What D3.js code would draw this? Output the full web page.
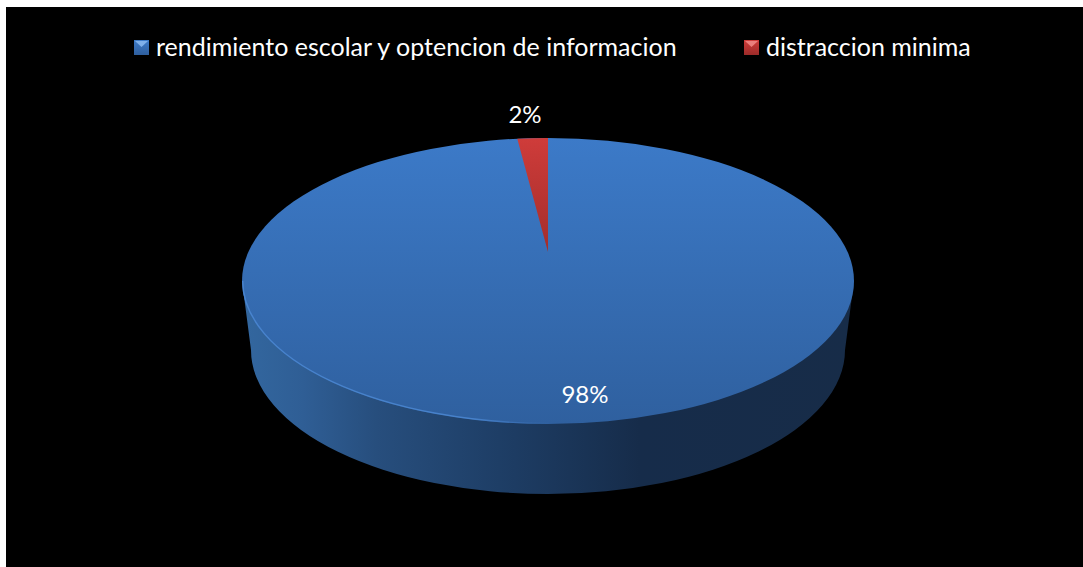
<!DOCTYPE html>
<html lang="en">
<head>
<meta charset="UTF-8">
<title>Pie chart</title>
<style>
    html, body { margin: 0; padding: 0; background: #fff; overflow: hidden; }
    text { font-family: Lato, "Open Sans", "Noto Sans", sans-serif; fill: #fff; }
</style>
</head>
<body>
<script src="https://d3js.org/d3.v7.min.js"></script>
<script>
const categories = ['rendimiento escolar y optencion de informacion', 'distraccion minima'];
const values = [98.4, 1.6];
const valueLabels = ['98%', '2%'];

const width = 1083, height = 567;
const cx = 548, cy = 281, rx = 306, ry = 143;
const wallX = 297, wallY = 350, wallRy = 144;
const apexY = 252; // the 3d view puts the pie's centre above the middle of the ellipse

const svg = d3.select('body').append('svg')
    .attr('width', width)
    .attr('height', height)
    .style('display', 'block');

const defs = svg.append('defs');

function linGrad(id, dir, stops) {
    const g = defs.append('linearGradient').attr('id', id)
        .attr('x1', 0).attr('y1', 0)
        .attr('x2', dir === 'h' ? 1 : 0).attr('y2', dir === 'h' ? 0 : 1);
    stops.forEach(s => g.append('stop').attr('offset', s[0]).attr('stop-color', s[1]));
}
linGrad('topBlue', 'v', [[0, '#3c7ac8'], [1, '#2f609f']]);
linGrad('topRed', 'v', [[0, '#cf3c3a'], [1, '#a32d2b']]);
linGrad('wallBlue', 'h', [[0, '#33679f'], [0.1, '#2f5e95'], [0.22, '#274e7d'], [0.42, '#1e3e66'], [0.65, '#162c4a'], [1, '#172c48']]);
linGrad('legBlue', 'v', [[0, '#3d7bc9'], [1, '#2f5f9e']]);
linGrad('legRed', 'v', [[0, '#cf3c3a'], [1, '#9c2b29']]);

// rim highlight fades out towards the front of the pie
const rimGrad = defs.append('linearGradient').attr('id', 'rimFade')
    .attr('gradientUnits', 'userSpaceOnUse')
    .attr('x1', cx - rx).attr('y1', 0).attr('x2', cx).attr('y2', 0);
rimGrad.append('stop').attr('offset', 0).attr('stop-color', '#4d8ad6').attr('stop-opacity', 0.8);
rimGrad.append('stop').attr('offset', 0.75).attr('stop-color', '#4d8ad6').attr('stop-opacity', 0.8);
rimGrad.append('stop').attr('offset', 1).attr('stop-color', '#4d8ad6').attr('stop-opacity', 0);

// background panel
svg.append('rect').attr('x', 6).attr('y', 7).attr('width', width - 6).attr('height', height - 7).attr('fill', '#000');

// side wall: lower half of the bottom ellipse joined to the rim of the top
svg.append('path')
    .attr('d', `M${cx - rx},${cy}L${cx - wallX},${wallY}A${wallX},${wallRy} 0 0 0 ${cx + wallX},${wallY}L${cx + rx},${cy}Z`)
    .attr('fill', 'url(#wallBlue)');

// top face
svg.append('ellipse').attr('cx', cx).attr('cy', cy).attr('rx', rx).attr('ry', ry)
    .attr('fill', 'url(#topBlue)');

// rim highlight along the lower left edge
svg.append('path')
    .attr('d', `M${cx - rx + 0.7},${cy}A${rx - 0.7},${ry - 0.7} 0 0 0 ${cx},${cy + ry - 0.7}`)
    .attr('fill', 'none').attr('stroke', 'url(#rimFade)').attr('stroke-width', 1.4);

// slices from the pie layout; only the small one needs its own mark
const arcs = d3.pie().sort(null)(values);
const rimPoint = a => [cx + rx * Math.sin(a), cy - ry * Math.cos(a)];
const red = arcs[1];
const p0 = rimPoint(red.startAngle), p1 = rimPoint(red.endAngle);
svg.append('path')
    .attr('d', `M${cx},${apexY}L${p0[0]},${p0[1]}A${rx},${ry} 0 0 1 ${p1[0]},${p1[1]}Z`)
    .attr('fill', 'url(#topRed)');

// value labels
const labelPos = [[585, 395], [525, 115]];
svg.selectAll('.val').data(valueLabels).enter().append('text')
    .attr('class', 'val')
    .attr('x', (d, i) => labelPos[i][0])
    .attr('y', (d, i) => labelPos[i][1])
    .attr('dy', '0.35em')
    .attr('text-anchor', 'middle')
    .attr('font-size', 24)
    .text(d => d);

// legend
const legX = [134, 744];
const legend = svg.selectAll('.leg').data(categories).enter().append('g')
    .attr('class', 'leg')
    .attr('transform', (d, i) => `translate(${legX[i]},40)`);
legend.append('rect').attr('width', 15).attr('height', 15)
    .attr('fill', (d, i) => i === 0 ? 'url(#legBlue)' : 'url(#legRed)');
legend.append('path').attr('d', 'M1,1H14L7.5,7Z')
    .attr('fill', (d, i) => i === 0 ? '#7fb0ea' : '#ea7f7c');
legend.append('text').attr('x', 22).attr('y', 6.8).attr('dy', '0.35em')
    .attr('font-size', 25)
    .text(d => d);
</script>
</body>
</html>
